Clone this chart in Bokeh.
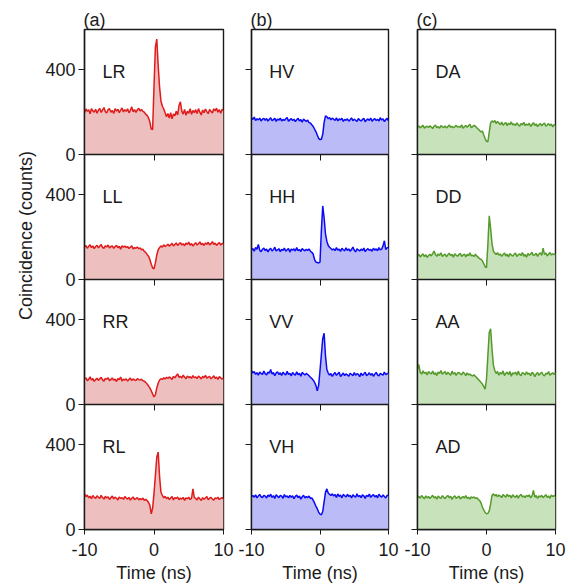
from bokeh.plotting import figure
from bokeh.layouts import row
from bokeh.models import Range1d, FixedTicker, Label, LinearAxis, Span
from bokeh.embed import file_html
from bokeh.resources import INLINE

# time bins (ns)
time_ns = [round(-10 + 0.2 * i, 1) for i in range(101)]

# ---- column (a): circular basis ----
LR = [196, 214, 203, 211, 192, 216, 205, 199, 213, 194,
      208, 216, 198, 210, 221, 201, 195, 212, 215, 199,
      207, 193, 216, 204, 213, 197, 209, 219, 200, 211,
      203, 215, 196, 208, 224, 201, 211, 198, 210, 217,
      205, 212, 203, 199, 190, 184, 173, 154, 120, 118,
      320, 505, 543, 420, 318, 252, 228, 214, 196, 178,
      193, 172, 197, 168, 191, 182, 203, 186, 230, 248,
      204, 190, 212, 185, 204, 194, 215, 189, 207, 197,
      211, 193, 216, 199, 186, 209, 197, 214, 202, 192,
      212, 203, 195, 215, 205, 218, 199, 211, 194, 213,
      206]
LL = [152, 160, 147, 156, 163, 150, 158, 145, 155, 161,
      149, 157, 164, 151, 146, 159, 153, 162, 148, 155,
      158, 147, 154, 161, 150, 156, 143, 159, 152, 157,
      150, 155, 146, 152, 158, 144, 150, 147, 153, 145,
      148, 140, 143, 132, 128, 118, 110, 95, 72, 55,
      50, 78, 115, 140, 150, 158, 152, 163, 155, 160,
      166, 157, 163, 170, 158, 165, 172, 160, 167, 174,
      162, 168, 159, 171, 165, 176, 161, 169, 158, 166,
      173, 162, 168, 177, 164, 170, 160, 172, 166, 175,
      163, 169, 178, 165, 171, 160, 168, 174, 162, 170,
      166]
RR = [120, 126, 112, 118, 130, 115, 122, 109, 117, 124,
      113, 121, 128, 116, 110, 123, 119, 126, 112, 118,
      125, 114, 120, 108, 122, 117, 129, 111, 119, 115,
      121, 110, 118, 124, 113, 120, 116, 112, 122, 117,
      115, 119, 112, 110, 104, 96, 88, 78, 65, 50,
      36, 45, 78, 100, 115, 121, 118, 126, 120, 128,
      122, 130, 124, 118, 132, 126, 135, 144, 128, 133,
      125, 138, 129, 121, 134, 127, 131, 123, 136, 126,
      130, 122, 134, 128, 120, 133, 126, 137, 124, 129,
      132, 121, 127, 135, 123, 129, 118, 131, 125, 120,
      124]
RL = [168, 155, 162, 149, 157, 145, 160, 151, 147, 158,
      152, 146, 161, 150, 143, 156, 148, 154, 141, 150,
      157, 144, 152, 147, 139, 153, 146, 150, 142, 155,
      148, 143, 151, 138, 147, 153, 141, 145, 150, 139,
      146, 140, 148, 137, 142, 136, 128, 115, 74, 100,
      170, 255, 340, 364, 250, 175, 160, 149, 156, 145,
      152, 141, 148, 155, 139, 150, 146, 153, 140, 148,
      143, 151, 137, 149, 145, 152, 141, 147, 191, 150,
      146, 139, 152, 144, 137, 150, 142, 148, 155, 140,
      147, 151, 143, 138, 149, 145, 152, 141, 146, 150,
      144]

# ---- column (b): H/V basis ----
HV = [172, 165, 176, 160, 168, 163, 171, 158, 166, 170,
      161, 169, 157, 166, 173, 159, 164, 170, 156, 167,
      162, 171, 158, 165, 160, 168, 174, 157, 163, 169,
      160, 166, 155, 163, 170, 158, 164, 152, 167, 160,
      156, 162, 150, 148, 140, 132, 120, 108, 92, 76,
      70, 72, 95, 150, 182, 178, 168, 174, 163, 171,
      166, 160, 172, 158, 167, 163, 170, 156, 165, 161,
      168, 157, 164, 172, 159, 166, 161, 155, 169, 162,
      158, 165, 170, 154, 163, 167, 160, 171, 157, 164,
      169, 160, 166, 158, 173, 162, 168, 155, 164, 170,
      158]
HH = [139, 146, 133, 151, 142, 165, 138, 131, 142, 148,
      136, 143, 130, 141, 147, 135, 140, 152, 134, 139,
      145, 131, 142, 137, 148, 133, 140, 146, 129, 143,
      138, 144, 134, 150, 136, 141, 132, 146, 139, 135,
      142, 137, 144, 133, 128, 120, 95, 82, 80, 78,
      82, 230, 346, 290, 215, 180, 160, 152, 146, 139,
      144, 136, 150, 138, 143, 132, 147, 140, 135, 149,
      137, 144, 133, 141, 152, 138, 130, 145, 139, 134,
      143, 136, 148, 131, 140, 145, 137, 142, 133, 147,
      138, 144, 135, 150, 139, 143, 158, 182, 141, 150,
      148]
VV = [160, 148, 155, 142, 150, 138, 153, 146, 141, 157,
      145, 139, 152, 147, 165, 143, 150, 136, 148, 154,
      141, 149, 137, 152, 144, 139, 156, 142, 147, 135,
      150, 143, 138, 154, 140, 147, 133, 151, 145, 139,
      146, 141, 135, 128, 122, 115, 105, 90, 64, 90,
      160, 235, 310, 335, 230, 165, 148, 138, 146, 132,
      143, 150, 137, 145, 152, 131, 140, 148, 136, 144,
      139, 133, 147, 141, 136, 150, 138, 145, 142, 131,
      148, 137, 144, 152, 135, 141, 149, 138, 146, 133,
      143, 151, 139, 134, 147, 142, 138, 153, 140, 145,
      147]
VH = [155, 160, 152, 163, 149, 158, 165, 154, 150, 161,
      157, 148, 162, 155, 166, 151, 159, 146, 163, 156,
      150, 161, 157, 147, 164, 153, 158, 149, 160, 152,
      159, 145, 156, 162, 150, 157, 143, 154, 161, 148,
      155, 150, 157, 146, 149, 138, 125, 110, 98, 82,
      72, 69, 85, 130, 175, 191, 172, 165, 160, 168,
      158, 164, 151, 167, 156, 162, 149, 165, 159, 153,
      166, 155, 161, 148, 163, 157, 152, 168, 154, 160,
      150, 163, 158, 146, 161, 155, 167, 151, 159, 164,
      153, 160, 149, 166, 157, 152, 163, 155, 148, 161,
      158]

# ---- column (c): D/A basis ----
DA = [128, 134, 125, 131, 137, 124, 130, 133, 127, 135,
      129, 122, 133, 138, 126, 131, 124, 136, 130, 127,
      134, 125, 131, 139, 128, 133, 126, 130, 137, 129,
      132, 127, 140, 124, 131, 136, 128, 135, 142, 126,
      131, 137, 133, 125, 120, 113, 106, 110, 92, 75,
      62, 60, 105, 150, 158, 152, 160, 146, 155, 148,
      140, 152, 138, 145, 150, 136, 147, 141, 153, 139,
      144, 137, 149, 140, 133, 146, 139, 151, 136, 143,
      138, 147, 132, 141, 150, 137, 144, 131, 140, 146,
      135, 142, 148, 133, 139, 145, 136, 143, 130, 141,
      137]
DD = [110, 118, 106, 114, 121, 108, 116, 104, 113, 119,
      111, 122, 134, 117, 109, 120, 113, 126, 108, 115,
      119, 107, 116, 124, 112, 118, 105, 121, 114, 110,
      117, 123, 109, 115, 120, 106, 118, 112, 125, 111,
      114, 108, 119, 110, 104, 98, 95, 88, 75, 60,
      56, 165, 300, 240, 168, 133, 124, 118, 126, 114,
      120, 109, 117, 125, 111, 119, 106, 122, 115, 110,
      118, 124, 108, 116, 121, 113, 127, 110, 117, 105,
      122, 114, 119, 128, 112, 116, 123, 109, 120, 126,
      113, 148, 118, 124, 111, 119, 127, 115, 121, 117,
      122]
AA = [165, 188, 150, 143, 158, 146, 152, 139, 155, 148,
      144, 157, 141, 150, 136, 153, 146, 160, 142, 149,
      155, 140, 152, 145, 138, 157, 143, 150, 137, 148,
      151, 144, 139, 153, 146, 136, 149, 140, 143, 137,
      134, 140, 131, 126, 118, 112, 104, 96, 85, 72,
      120, 230, 340, 356, 260, 185, 160, 146, 155, 138,
      150, 143, 158, 136, 147, 152, 140, 156, 133, 149,
      144, 152, 138, 157, 141, 135, 150, 146, 139, 154,
      142, 148, 136, 151, 145, 131, 143, 150, 137, 146,
      152, 140, 134, 147, 143, 155, 138, 144, 149, 141,
      150]
AD = [150, 156, 147, 160, 152, 144, 158, 149, 155, 146,
      153, 161, 148, 155, 143, 157, 150, 146, 159, 152,
      145, 154, 160, 149, 156, 142, 153, 158, 147, 151,
      157, 144, 150, 155, 148, 160, 146, 152, 143, 154,
      149, 153, 146, 150, 141, 137, 125, 106, 92, 80,
      74, 76, 88, 120, 160, 168, 158, 165, 154, 162,
      157, 150, 164, 158, 152, 166, 155, 161, 149, 163,
      156, 151, 162, 147, 159, 165, 153, 158, 150, 161,
      155, 163, 149, 157, 184, 152, 160, 146, 158, 153,
      161, 150, 156, 164, 151, 158, 147, 162, 155, 159,
      154]

col_titles = ["(a)", "(b)", "(c)"]
panel_names = [["LR", "HV", "DA"],
               ["LL", "HH", "DD"],
               ["RR", "VV", "AA"],
               ["RL", "VH", "AD"]]
panel_data = {"LR": LR, "LL": LL, "RR": RR, "RL": RL,
              "HV": HV, "HH": HH, "VV": VV, "VH": VH,
              "DA": DA, "DD": DD, "AA": AA, "AD": AD}
x_ticks = [-10, 0, 10]
x_tick_labels = ["-10", "0", "10"]
y_ticks = [0, 400]
y_tick_labels = ["0", "400"]
x_label = "Time (ns)"
y_label = "Coincidence (counts)"

# ---- style ----
FONT = "Liberation Sans"
FS = "18px"
TXT = "#1a1a1a"
AXC = "#1a1a1a"
line_colors = ["#E01B1B", "#0A0AF5", "#559A2A"]
fill_colors = ["#EDBFBF", "#BBBBF8", "#C8E3BC"]
frame_w = [139, 137, 138]
border_l = [46, 14, 14]
border_r = [14, 15, 13]
PANEL_H = 125          # pixel height of one stacked panel
Y_SPAN = 588           # counts shown in one panel
N_ROWS = 4
offsets = [(N_ROWS - 1 - r) * Y_SPAN for r in range(N_ROWS)]  # panel baselines

figs = []
for c in range(3):
    p = figure(frame_width=frame_w[c], frame_height=PANEL_H * N_ROWS,
               x_range=Range1d(-10, 10), y_range=Range1d(0, Y_SPAN * N_ROWS),
               output_backend="svg", toolbar_location=None,
               min_border_left=border_l[c], min_border_right=border_r[c],
               min_border_top=29, min_border_bottom=0)
    p.grid.visible = False
    p.outline_line_color = AXC
    p.outline_line_width = 1.4
    p.background_fill_color = "white"
    p.border_fill_color = "white"

    for r in range(N_ROWS):
        name = panel_names[r][c]
        vals = panel_data[name]
        base = offsets[r]
        shifted = [base + v for v in vals]
        p.varea(x=time_ns, y1=base, y2=shifted, fill_color=fill_colors[c], fill_alpha=1.0)
        p.line(x=time_ns, y=shifted, line_color=line_colors[c], line_width=1.5)
        p.add_layout(Label(x=-7.4, y=base + 390, text=name, text_font=FONT,
                           text_font_size=FS, text_color=TXT,
                           text_align="left", text_baseline="middle"))

    # panel separators + x tick at 0 pointing down on every inner boundary
    for r in range(N_ROWS - 1):
        base = offsets[r]
        p.add_layout(Span(location=base, dimension="width",
                          line_color=AXC, line_width=1.4))
        inner = LinearAxis(fixed_location=base, ticker=FixedTicker(ticks=[0]),
                           major_tick_out=6, major_tick_in=0,
                           minor_tick_out=0, minor_tick_in=0,
                           major_label_overrides={0: ""},
                           major_label_text_font_size="0px",
                           major_label_standoff=0,
                           axis_line_color=None, major_tick_line_color=AXC)
        p.add_layout(inner, "below")

    # y axis: 0 and 400 in every panel
    yax = p.yaxis[0]
    tick_pos = [base + t for base in offsets for t in y_ticks]
    yax.ticker = FixedTicker(ticks=tick_pos)
    yax.major_tick_out = 6
    yax.major_tick_in = 0
    yax.minor_tick_out = 0
    yax.minor_tick_in = 0
    yax.axis_line_color = AXC
    yax.axis_line_width = 1.4
    yax.major_tick_line_color = AXC
    if c == 0:
        yax.major_label_overrides = {base + t: lab for base in offsets
                                     for t, lab in zip(y_ticks, y_tick_labels)}
        yax.major_label_text_font = FONT
        yax.major_label_text_font_size = FS
        yax.major_label_text_color = TXT
        yax.major_label_standoff = 3
    else:
        yax.major_label_overrides = {t: "" for t in tick_pos}
        yax.major_label_text_font_size = "0px"
        yax.major_label_standoff = 0

    xax = p.xaxis[0]
    xax.ticker = FixedTicker(ticks=x_ticks)
    xax.major_label_overrides = dict(zip(x_ticks, x_tick_labels))
    xax.major_tick_out = 5
    xax.major_tick_in = 0
    xax.minor_tick_out = 0
    xax.minor_tick_in = 0
    xax.axis_line_color = AXC
    xax.axis_line_width = 1.4
    xax.major_tick_line_color = AXC
    xax.major_label_text_font = FONT
    xax.major_label_text_font_size = FS
    xax.major_label_text_color = TXT
    xax.major_label_standoff = 8
    xax.axis_label = x_label
    xax.axis_label_text_font = FONT
    xax.axis_label_text_font_size = FS
    xax.axis_label_text_font_style = "normal"
    xax.axis_label_text_color = TXT
    xax.axis_label_standoff = 4

    p.title.text = col_titles[c]
    p.title.align = "left"
    p.title.text_font = FONT
    p.title.text_font_size = FS
    p.title.text_font_style = "normal"
    p.title.text_color = TXT
    p.title.standoff = 0
    p.title.offset = -1

    figs.append(p)

yfig = figure(width=38, height=583, x_range=Range1d(0, 1), y_range=Range1d(0, 1),
              output_backend="svg", toolbar_location=None, min_border=0,
              x_axis_location=None, y_axis_location=None)
yfig.outline_line_color = None
yfig.grid.visible = False
yfig.background_fill_alpha = 0
yfig.border_fill_alpha = 0
yfig.add_layout(Label(x=25, y=292, x_units="screen", y_units="screen",
                      text=y_label, angle=90, angle_units="deg",
                      text_font=FONT, text_font_size=FS, text_color=TXT,
                      text_align="center", text_baseline="middle"))

layout = row(yfig, *figs)
open("out.html", "w").write(file_html(layout, INLINE))
